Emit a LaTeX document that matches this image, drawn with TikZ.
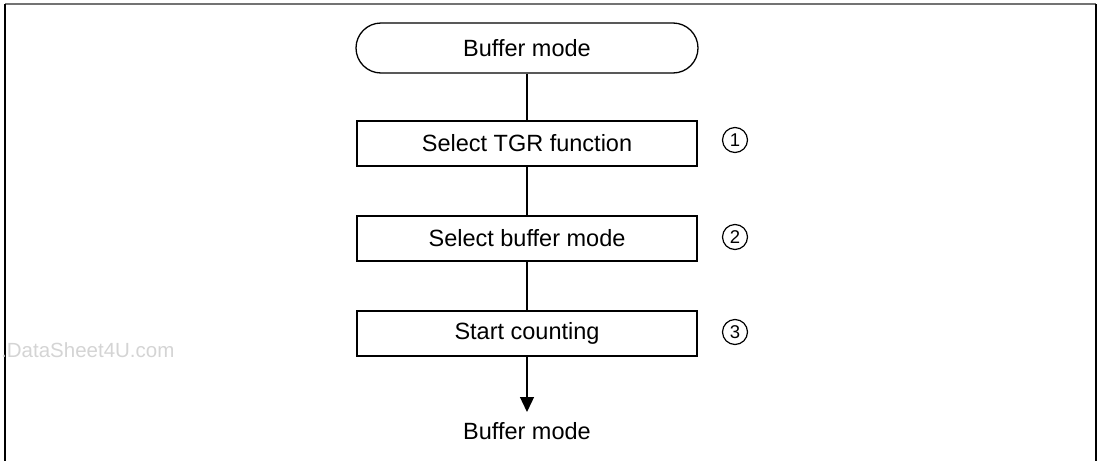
\documentclass[tikz,border=0pt]{standalone}
\usepackage{fontspec}
\setmainfont{Liberation Sans}
\usetikzlibrary{arrows.meta}
\tikzset{
  stepbox/.style={draw, line width=1.3pt, minimum width=340pt, minimum height=45pt, inner sep=0pt, font=\fontsize{23.5}{28}\selectfont},
  term/.style={draw, line width=1.3pt, rounded corners=25pt, minimum width=342pt, minimum height=50pt, inner sep=0pt, font=\fontsize{23.5}{28}\selectfont},
  conn/.style={line width=1.3pt},
  num/.style={circle, draw, line width=1.2pt, minimum size=25pt, inner sep=0pt, font=\fontsize{18.5}{20}\selectfont},
  frame/.style={line width=2pt},
}
\begin{document}
\begin{tikzpicture}[x=1pt,y=-1pt]
\useasboundingbox (0,0) rectangle (1100,461);
% frame
\draw[frame, draw=black!55] (5,4) -- (1096,4);
\draw[frame] (5,4) -- (5,461);
\draw[frame] (1096,4) -- (1096,461);
% watermark
\node[anchor=west, text=black!17, inner sep=0pt, font=\fontsize{20.5}{24}\selectfont] (wm) at (1,350) {.DataSheet4U.com};
% nodes
\node[term] (t0) at (527,48) {Buffer mode};
\node[stepbox] (s1) at (527,143.5) {Select TGR function};
\node[stepbox] (s2) at (527,238.5) {Select buffer mode};
\node[stepbox] (s3) at (527,333.5) {Start counting};
\node[num] (n1) at (735,140) {1};
\node[num] (n2) at (735,237) {2};
\node[num] (n3) at (735,332) {3};
\coordinate (tip) at (527,412);
\node[inner sep=0pt, font=\fontsize{23.5}{28}\selectfont] (end) at (527,431) {Buffer mode};
% connectors
\draw[conn] (t0.south) -- (s1.north);
\draw[conn] (s1.south) -- (s2.north);
\draw[conn] (s2.south) -- (s3.north);
\draw[conn, -{Triangle[width=14pt,length=15pt]}] (s3.south) -- (tip);
\end{tikzpicture}
\end{document}
